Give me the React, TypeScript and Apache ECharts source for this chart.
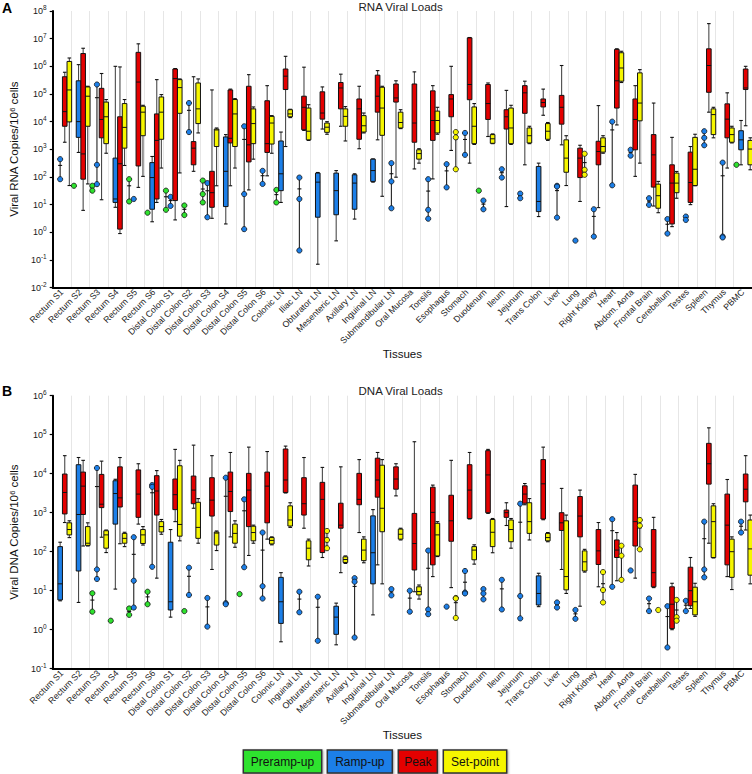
import React, { useEffect, useRef } from 'react';
import * as echarts from 'echarts';

const rnaTissues = [
  'Rectum S1', 'Rectum S2', 'Rectum S3', 'Rectum S4', 'Rectum S5', 'Rectum S6',
  'Distal Colon S1', 'Distal Colon S2', 'Distal Colon S3', 'Distal Colon S4', 'Distal Colon S5', 'Distal Colon S6',
  'Colonic LN', 'Iliac LN', 'Obturator LN', 'Mesenteric LN', 'Axillary LN', 'Inguinal LN', 'Submandibular LN',
  'Oral Mucosa', 'Tonsils', 'Esophagus', 'Stomach', 'Duodenum', 'Ileum', 'Jejunum', 'Trans Colon', 'Liver', 'Lung',
  'Right Kidney', 'Heart', 'Abdom. Aorta', 'Frontal Brain', 'Cerebellum', 'Testes', 'Spleen', 'Thymus', 'PBMC',
];
const dnaTissues = [
  'Rectum S1', 'Rectum S2', 'Rectum S3', 'Rectum S4', 'Rectum S5', 'Rectum S6',
  'Distal Colon S1', 'Distal Colon S2', 'Distal Colon S3', 'Distal Colon S4', 'Distal Colon S5', 'Distal Colon S6',
  'Colonic LN', 'Inguinal LN', 'Obturator LN', 'Mesenteric LN', 'Axillary LN', 'Inguinal LN', 'Submandibular LN',
  'Oral Mucosa', 'Tonsils', 'Esophagus', 'Stomach', 'Duodenum', 'Ileum', 'Jejunum', 'Trans Colon', 'Liver', 'Lung',
  'Right Kidney', 'Heart', 'Abdom. Aorta', 'Frontal Brain', 'Cerebellum', 'Testes', 'Spleen', 'Thymus', 'PBMC',
];

const groupNames = ['Preramp-up', 'Ramp-up', 'Peak', 'Set-point'];
const groupColors = ['#2ee22e', '#1c7fe8', '#e40000', '#f6f600'];

const rnaTicks = [0.01, 0.1, 1, 10, 100, 1e3, 1e4, 1e5, 1e6, 1e7, 1e8];
const dnaTicks = [0.1, 1, 10, 100, 1e3, 1e4, 1e5, 1e6];

// Each entry: 5 numbers = box [min, q1, median, q3, max]; 1-3 numbers = individual animals
type Entry = number[] | null;

const rnaPreramp: Entry[] = [
  null, [48], [48, 32], null, [83, 13], [5.1], [32, 6.5], [9.3, 4.2], [74, 24, 12], null, null, null,
  [34, 12], null, null, null, null, null, null, null, null, null, null, [32], null, null, null, null, null,
  null, null, null, null, null, null, null, null, [275],
];
const rnaRamp: Entry[] = [
  [440, 83], [770, 2.7e3, 1e4, 3e5, 1.15e6], [2.2e5, 275, 55], [8, 12, 16, 480, 1e6], [16],
  [2.4, 6.8, 95, 330, 550], [19, 9], [4.7e4, 4.2e3], [60, 3.5], [2, 8.5, 160, 2.8e3, 3.4e3],
  [6.8e3, 24, 1.3], [166, 56], [12, 32, 130, 2e3, 4.2e3], [95, 16, 0.22], [0.07, 3.5, 65, 138, 145],
  [0.49, 4.3, 32, 138, 170], [3, 6.8, 60, 120, 130], [65, 69, 170, 440, 450], [316, 69, 7.4], null,
  [83, 6.5, 3.1], [290, 42], [3.9e3, 630], [14, 6.8], [190, 95], [25, 17], [3.7, 5.6, 13, 240, 316],
  [48, 45, 3.4], [0.5], [6.8, 0.7], [1e4, 50], [960, 590], [17, 9.8], [3, 0.9], [3.7, 2.8],
  [4.5e3, 2.6e3, 1.4e3], [330, 0.7, 0.65], [275, 960, 2.2e3, 4.7e3, 1.1e4],
];
const rnaPeak: Entry[] = [
  [1.8e3, 6.8e3, 2.3e4, 4.2e5, 6.1e5], [6.2, 83, 680, 2.9e6, 4.5e6], [15, 2.6e3, 1.2e4, 1.6e5, 5.5e5],
  [0.9, 1.3, 300, 1.5e4, 9.5e5], [42, 250, 2.7e5, 3.2e6, 6.5e6], [12, 16, 2.1e3, 1.9e4, 3.3e5],
  [2.8, 14, 3.6e5, 8e5, 8.3e5], [160, 275, 1.1e3, 1.9e3, 4.2e5], [3.2, 8, 27, 160, 1.4e5],
  [48, 1.7e3, 2.5e3, 1.4e5, 1.5e5], [34, 350, 1.45e3, 1.9e5, 5e5], [110, 770, 1.6e3, 5.7e4, 2e5],
  [1.26e3, 1.45e5, 4.4e5, 8e5, 2.3e6], [4.8e3, 5.1e3, 3.3e4, 8.3e4, 9.3e5], [5.4e3, 1.23e4, 2.05e4, 1.2e5, 1.8e5],
  [6.8e3, 2.9e4, 1.65e5, 2.6e5, 5.2e5], [1.05e3, 2.3e3, 2.9e4, 6.6e4, 1.9e5], [2.2e3, 2.2e4, 8.3e4, 4.8e5, 7e5],
  [98, 5.1e4, 7.2e4, 2.3e5, 3e5], [195, 1.8e3, 8.9e3, 2.3e5, 6.3e5], [85, 2.1e3, 1.1e4, 1.3e5, 2e5],
  [910, 1.5e4, 6.6e4, 9.5e4, 1e6], [316, 6.2e4, 2.2e5, 1.07e7, 1.1e7], [2.9e3, 1.2e4, 4.5e4, 2.2e5, 2.5e5],
  [8.5, 5.4e3, 1.5e4, 2.7e4, 1.35e5], [275, 2e4, 1.1e5, 2e5, 2.9e5], [1.7e4, 3.4e4, 4.9e4, 6.6e4, 1.5e5],
  [1.45e3, 8.1e3, 3.3e4, 8.9e4, 1.07e6], [13, 95, 480, 1.1e3, 1.4e3], [7.8, 275, 830, 1.95e3, 3.8e4],
  [7.6e3, 3.1e4, 3e5, 4.1e6, 4.3e6], [105, 960, 1.2e4, 6.6e4, 2e5], [8.9, 43, 630, 3.4e3, 4.7e4],
  [1.6, 2, 60, 275, 2.7e3], [10, 12, 63, 790, 1.26e3], [2.2e4, 1.15e5, 1.07e6, 4.3e6, 3.5e7],
  [210, 2.6e3, 1.23e4, 4.4e4, 1.1e5], [7.1e3, 1.45e5, 1.65e5, 8e5, 1e6],
];
const rnaSetpoint: Entry[] = [
  [49, 9.8e3, 1.4e5, 1.5e6, 2e6], [56, 6.8e3, 8.3e4, 1.8e5, 1.9e5], [720, 1.6e3, 1.5e4, 5.1e4, 6.3e4],
  [260, 1.1e3, 6.2e3, 4.5e4, 6.3e4], [105, 3.1e3, 2.2e4, 3.6e4, 3.9e4], [210, 2.3e3, 2.2e4, 7.8e4, 9.5e4],
  [140, 2e4, 1.7e5, 3.3e5, 3.5e5], [3.9e3, 8.5e3, 2.9e4, 2.5e5, 3.5e5], [48, 1.26e3, 5e3, 5.4e3, 5.9e3],
  [210, 1.26e3, 1.9e4, 6.3e4, 6.8e4], [440, 1.6e3, 8.5e3, 2.9e4, 3.4e4], [720, 1.55e3, 8.9e3, 1.55e4, 1.65e4],
  [1.4e4, 1.5e4, 1.9e4, 2.7e4, 2.8e4], [2.1e3, 2.2e3, 4.5e3, 3.1e4, 4.1e4], [3.5e3, 4.1e3, 6.3e3, 8.9e3, 1e4],
  [2e3, 6.8e3, 1.55e4, 2.9e4, 3.5e4], [3.9e3, 4.2e3, 7.1e3, 1.65e4, 2.05e4], [20, 3.2e3, 3.1e4, 1.75e5, 1.9e5],
  [5.6e3, 5.9e3, 9.3e3, 2.2e4, 2.7e4], [316, 440, 700, 960, 1.05e3], [3.5e3, 3.9e3, 1.1e4, 2.4e4, 3.3e4],
  [4.2e3, 2.7e3, 190], [1.5e3, 1.6e3, 6.8e3, 3.4e4, 4.5e4], [1.6e3, 1.65e3, 2.4e3, 3.4e3, 3.6e3],
  [1.5e3, 1.6e3, 5.9e3, 3.1e4, 3.9e4], [1.6e3, 1.7e3, 3.1e3, 5.9e3, 6.8e3], [2.1e3, 2.3e3, 4.5e3, 8.5e3, 9.3e3],
  [49, 148, 480, 2.2e3, 3.1e3], [690, 182, 120], [720, 790, 1.26e3, 2.6e3, 3.1e3],
  [2.6e5, 2.9e5, 8.7e5, 3.1e6, 3.5e6], [316, 1.07e4, 4.7e4, 5.8e5, 7.6e5], [5.1, 7.4, 21, 55, 69],
  [17, 27, 60, 138, 158], [48, 49, 190, 2.7e3, 3.5e3], [2.6e3, 3.4e3, 1.8e4, 2.9e4, 3.3e4],
  [1.7e3, 1.8e3, 3.4e3, 5.9e3, 6.8e3], [182, 275, 1.02e3, 2.1e3, 2.6e3],
];

const dnaPreramp: Entry[] = [
  null, null, [8.6, 2.9], [1.7], [3.5, 2.4], [9.4, 4.5], null, [3.0], null, null, [8.2], null,
  null, null, null, null, null, null, null, null, null, null, null, null, null, null, null, null, null,
  null, null, null, null, null, null, null, null, null,
];
const dnaRamp: Entry[] = [
  [5.5, 5.8, 15, 135, 175], [5, 32, 900, 1.7e4, 2.6e4], [1.4e4, 35, 20], [11, 510, 3.1e3, 6.6e3, 7.2e3],
  [235, 18, 3.7], [5.1e3, 4.6e3, 41], [2.1, 3.2, 5.2, 175, 370], [39, 7.8], [6.5, 1.2], [7.9e3, 4.8, 4.5],
  [2.2e3, 40], [310, 13, 6.3], [0.49, 1.45, 5.2, 22, 29], [9.4, 2.8], [7, 0.52], [0.41, 0.76, 2.1, 4, 4.8],
  [21, 17, 0.63], [2.4, 15, 94, 830, 1.2e3], [11, 7.6], [10, 2.9], [107, 3.3, 2.5], [3.9], [32, 9, 8.5],
  [11, 8.5, 6], [19, 3.3], [1.7e3, 7.3, 1.95], [3.9, 4.3, 8.5, 24, 28], [5, 3.7], [3.2, 1.9], null,
  [680, 12.6], [33], [6.3, 3], [4, 0.35], [5.5, 3], [590, 35, 22], null, [590, 310],
];
const dnaPeak: Entry[] = [
  [560, 930, 3.3e3, 9.8e3, 2.9e4], [140, 900, 4.8e3, 1.1e4, 2.2e4], [235, 1.35e3, 1.65e3, 9.6e3, 2.1e4],
  [160, 1.4e3, 2.4e3, 1.5e4, 2.6e4], [510, 760, 3e3, 1.25e4, 1.8e4], [21, 870, 3.6e3, 8.9e3, 1.2e4],
  [590, 1.2e3, 2.9e3, 7.3e3, 4.2e4], [1.3e3, 1.7e3, 3.8e3, 8.7e3, 5.4e4], [35, 820, 2.1e3, 7.9e3, 2.9e4],
  [240, 1.07e3, 3.5e3, 1.1e4, 3.5e4], [80, 440, 3.8e3, 1.02e4, 4.8e4], [210, 550, 4.8e3, 1.1e4, 3.7e4],
  [3.2e3, 3.3e3, 6.9e3, 4.3e4, 5.1e4], [400, 870, 1.7e3, 7.9e3, 2.6e4], [71, 95, 2.2e3, 6e3, 1.45e4],
  [29, 400, 480, 1.75e3, 1.5e4], [310, 1.6e3, 2.2e3, 1.02e4, 2.3e4], [46, 2.5e3, 6.9e3, 2.5e4, 3.5e4],
  [2.7e3, 4e3, 7.3e3, 1.5e4, 1.8e4], [9.4, 34, 162, 960, 6.6e4], [23, 46, 1.02e3, 4.5e3, 5.1e3],
  [12, 185, 620, 2.8e3, 2.2e4], [690, 710, 3.8e3, 1.7e4, 3.5e4], [960, 1e3, 9.3e3, 3.9e4, 4.2e4],
  [470, 760, 1e3, 1.17e3, 1.8e3], [1.6e3, 1.75e3, 3e3, 4.9e3, 5.6e3], [660, 690, 5.5e3, 2.3e4, 4.8e4],
  [35, 350, 550, 1e3, 4.2e3], [4, 240, 820, 2.6e3, 3.8e3], [12.6, 47, 105, 370, 560], [18, 71, 110, 200, 310],
  [21, 140, 590, 5.1e3, 9.6e3], [12, 12.6, 29, 370, 760], [1, 1.07, 4.5, 12.6, 15.5], [3.5, 4.1, 10, 40, 71],
  [165, 5.4e3, 1.8e4, 6e4, 1.5e5], [23, 46, 480, 3e3, 7.1e3], [360, 1.9e3, 4e3, 9.8e3, 2.9e4],
];
const dnaSetpoint: Entry[] = [
  [230, 270, 370, 550, 620], [140, 145, 165, 440, 550], [95, 123, 270, 345, 360], [135, 165, 220, 295, 315],
  [148, 162, 270, 370, 440], [280, 320, 440, 590, 670], [190, 250, 500, 1.6e4, 2.2e4], [165, 220, 420, 1.85e3, 2.3e3],
  [107, 148, 300, 320, 340], [130, 165, 295, 510, 620], [165, 190, 310, 450, 480], [150, 158, 195, 230, 240],
  [420, 455, 650, 1.5e3, 1.8e3], [43, 62, 123, 190, 210], [340, 200, 123], [50, 53, 63, 74, 78],
  [52, 59, 110, 210, 240], [15, 325, 1.3e3, 1.65e4, 2.3e4], [200, 210, 280, 380, 400], [6.1, 7.8, 9.5, 12.6, 14],
  [75, 78, 270, 535, 590], [6.5, 6.3, 2], [48, 62, 110, 135, 150], [94, 135, 315, 670, 710],
  [123, 180, 370, 650, 710], [200, 295, 590, 1.8e3, 2.3e3], [180, 190, 230, 295, 310], [8.5, 10.5, 23, 620, 870],
  [30, 32, 55, 105, 115], [30, 10.4, 5], [142, 79, 19], [650, 465, 115], [3.2], [5.8, 2.1, 1.7],
  [2.2, 2.4, 5.2, 12.3, 15.5], [69, 71, 590, 1.5e3, 1.7e3], [10.7, 22, 100, 210, 240], [15, 25, 118, 650, 870],
];

const FONT = '"Liberation Sans", Arial, Helvetica, sans-serif';
const LABEL_COLOR = '#1a1a1a';

function makeSeries(entries: Entry[], g: number, panel: number) {
  const data: number[][] = [];
  entries.forEach((e, i) => {
    if (e) data.push([i]);
  });
  const color = groupColors[g];
  return {
    type: 'custom',
    name: groupNames[g],
    xAxisIndex: panel,
    yAxisIndex: panel,
    clip: false,
    silent: true,
    data,
    renderItem: (params: any, api: any) => {
      const i = api.value(0);
      const e = entries[i] as number[];
      const band = api.size([1, 0])[0];
      const cx = api.coord([i, 1])[0] + (g - 1.5) * band * 0.25 + band * 0.03;
      const y = (v: number) => api.coord([i, v])[1];
      const children: any[] = [];
      const wStyle = { stroke: '#4a4a4a', lineWidth: 1.1 };
      const kStyle = { stroke: '#111', lineWidth: 1.1 };
      if (e.length === 5) {
        const [mn, q1, md, q3, mx] = e.map(y);
        const hw = 2.3;
        children.push(
          { type: 'line', shape: { x1: cx, y1: mx, x2: cx, y2: q3 }, style: wStyle },
          { type: 'line', shape: { x1: cx, y1: q1, x2: cx, y2: mn }, style: wStyle },
          { type: 'line', shape: { x1: cx - 1.8, y1: mx, x2: cx + 1.8, y2: mx }, style: kStyle },
          { type: 'line', shape: { x1: cx - 1.8, y1: mn, x2: cx + 1.8, y2: mn }, style: kStyle },
          {
            type: 'rect',
            shape: { x: cx - hw, y: q3, width: hw * 2, height: Math.max(q1 - q3, 1) },
            style: { fill: color, stroke: '#111', lineWidth: 1 },
          },
          { type: 'line', shape: { x1: cx - hw, y1: md, x2: cx + hw, y2: md }, style: { stroke: '#111', lineWidth: 1 } }
        );
      } else {
        if (e.length > 1) {
          const ys = e.map(y);
          const top = Math.min(...ys);
          const bot = Math.max(...ys);
          const mean = e.reduce((a, b) => a + b, 0) / e.length;
          const my = y(mean);
          children.push(
            { type: 'line', shape: { x1: cx, y1: top, x2: cx, y2: bot }, style: { stroke: '#222', lineWidth: 1.1 } },
            { type: 'line', shape: { x1: cx - 2, y1: my, x2: cx + 2, y2: my }, style: kStyle }
          );
        }
        e.forEach((v) => {
          children.push({
            type: 'circle',
            shape: { cx, cy: y(v), r: 2.6 },
            style: { fill: color, stroke: '#111', lineWidth: 0.8 },
          });
        });
      }
      return { type: 'group', children };
    },
  };
}

function yLabel(v: number) {
  const e = Math.round(Math.log10(v));
  return `{b|10}{s|${e}}`;
}

const richLabel = {
  b: { fontSize: 9, lineHeight: 14, color: LABEL_COLOR, fontFamily: FONT },
  s: { fontSize: 6.5, lineHeight: 6, verticalAlign: 'top', color: LABEL_COLOR, fontFamily: FONT },
};

function xAxisCfg(panel: number, names: string[], nameGap: number) {
  return {
    type: 'category',
    gridIndex: panel,
    data: names,
    boundaryGap: true,
    axisLine: { lineStyle: { color: '#000', width: 2 } },
    axisTick: { alignWithLabel: true, length: 4, lineStyle: { color: '#000', width: 1.5 } },
    axisLabel: {
      interval: 0,
      rotate: 45,
      margin: 3,
      color: LABEL_COLOR,
      fontSize: 8.8,
      fontFamily: FONT,
    },
    splitLine: { show: true, interval: 0, lineStyle: { color: '#e6e6e6', width: 1 } },
    name: 'Tissues',
    nameLocation: 'middle',
    nameGap,
    nameTextStyle: { fontSize: 11.5, color: '#111', fontFamily: FONT },
  };
}

function yAxisCfg(panel: number, ticks: number[], name: string) {
  return {
    type: 'log',
    gridIndex: panel,
    logBase: 10,
    min: ticks[0],
    max: ticks[ticks.length - 1],
    interval: 1,
    splitNumber: ticks.length - 1,
    axisLine: { show: true, lineStyle: { color: '#000', width: 2 } },
    axisTick: { show: true, length: 3, lineStyle: { color: '#000', width: 1.2 } },
    splitLine: { show: false },
    axisLabel: { formatter: yLabel, rich: richLabel, margin: 6, showMinLabel: true, showMaxLabel: true },
    name,
    nameLocation: 'middle',
    nameGap: 30,
    nameRotate: 90,
    nameTextStyle: {
      fontSize: 11.5,
      color: '#111',
      fontFamily: FONT,
      rich: { s: { fontSize: 7.5, lineHeight: 7, verticalAlign: 'top', color: '#111', fontFamily: FONT } },
    },
  };
}

const legendBoxes = [
  { x: 243.3, w: 78.4 },
  { x: 327.3, w: 65 },
  { x: 398.3, w: 39 },
  { x: 443.3, w: 63.4 },
];

export default function App() {
  const ref = useRef<HTMLDivElement>(null);
  useEffect(() => {
    const chart = echarts.init(ref.current!, null, { renderer: 'svg' });
    const graphics: any[] = [
      { type: 'text', left: 2, top: 1, style: { text: 'A', fontSize: 14, fontWeight: 'bold', fill: '#000', fontFamily: FONT } },
      { type: 'text', left: 2, top: 384, style: { text: 'B', fontSize: 14, fontWeight: 'bold', fill: '#000', fontFamily: FONT } },
      {
        type: 'text', x: 400.6, y: 7,
        style: { text: 'RNA Viral Loads', fontSize: 11.5, fill: '#222', fontFamily: FONT, align: 'center', verticalAlign: 'middle' },
      },
      {
        type: 'text', x: 400.6, y: 391,
        style: { text: 'DNA Viral Loads', fontSize: 11.5, fill: '#222', fontFamily: FONT, align: 'center', verticalAlign: 'middle' },
      },
    ];
    legendBoxes.forEach((b, g) => {
      graphics.push({
        type: 'rect',
        shape: { x: b.x, y: 750, width: b.w, height: 23 },
        style: { fill: groupColors[g], stroke: '#333', lineWidth: 1.5, shadowBlur: 2, shadowColor: 'rgba(0,0,0,0.35)', shadowOffsetX: 1, shadowOffsetY: 1 },
      });
      graphics.push({
        type: 'text',
        x: b.x + b.w / 2,
        y: 761.5,
        style: { text: groupNames[g], fontSize: 12, fill: '#111', fontFamily: FONT, align: 'center', verticalAlign: 'middle' },
      });
    });

    const series: any[] = [];
    [rnaPreramp, rnaRamp, rnaPeak, rnaSetpoint].forEach((e, g) => series.push(makeSeries(e, g, 0)));
    [dnaPreramp, dnaRamp, dnaPeak, dnaSetpoint].forEach((e, g) => series.push(makeSeries(e, g, 1)));

    chart.setOption({
      animation: false,
      textStyle: { fontFamily: FONT, color: LABEL_COLOR },
      grid: [
        { left: 49.3, top: 11, width: 703, height: 276.6 },
        { left: 49.3, top: 395.7, width: 703, height: 273 },
      ],
      xAxis: [xAxisCfg(0, rnaTissues, 44), xAxisCfg(1, dnaTissues, 47)],
      yAxis: [
        yAxisCfg(0, rnaTicks, 'Viral RNA Copies/10{s|6} cells'),
        yAxisCfg(1, dnaTicks, 'Viral DNA Copies/10{s|6} cells'),
      ],
      graphic: graphics,
      series,
    });
    return () => chart.dispose();
  }, []);
  return <div ref={ref} style={{ position: 'absolute', left: 0, top: 0, width: 752, height: 774 }} />;
}
